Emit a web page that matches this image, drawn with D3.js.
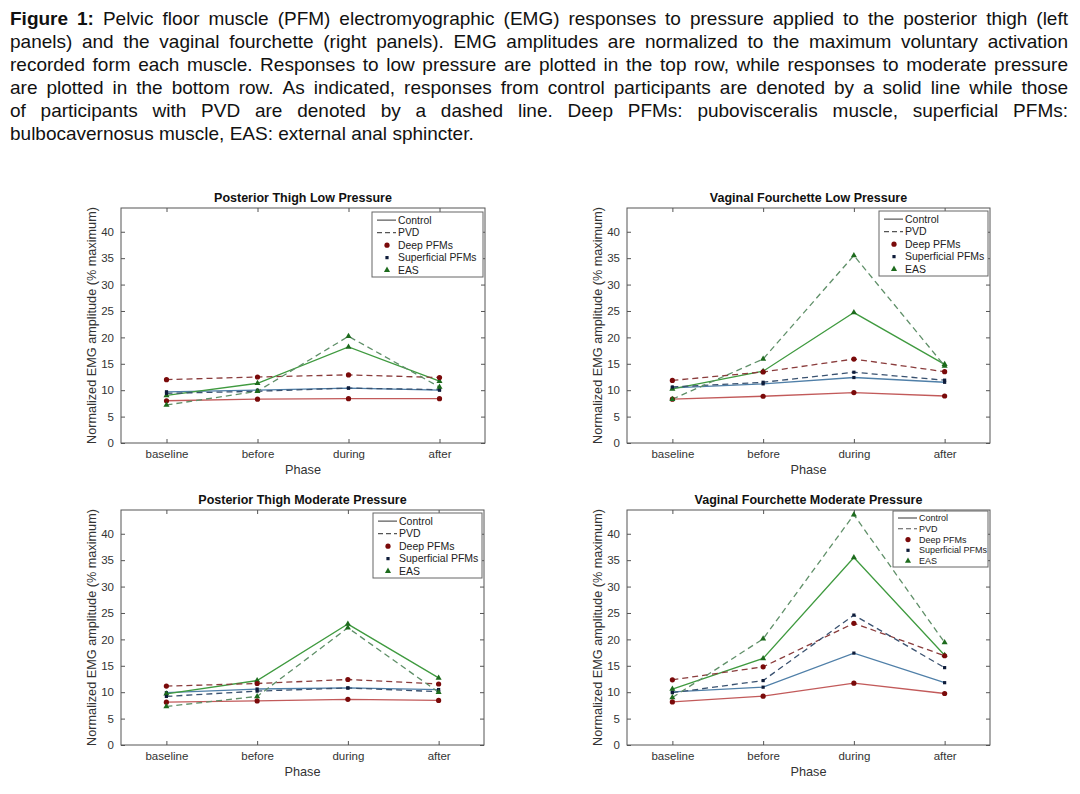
<!DOCTYPE html>
<html>
    <head>
        <style>
            body { margin: 0; background: white; }
            text { font-family: "Liberation Sans", Arial, sans-serif; }
            .frame { fill: none; stroke: #555; stroke-width: 1; }
            .axis path { display: none; }
            .axis line { stroke: #555; }
            .axis text { fill: #333; font-size: 11.5px; font-family: "Liberation Sans", Arial, sans-serif; }
            .legend_box { fill: white; stroke: #666; stroke-width: 1; }
        </style>
    </head>
    <body>
        <div id="plateau"></div>
        <script src="https://cdn.jsdelivr.net/npm/d3@7"></script>
        <script>

//////////////////// donnees ////////////////////
const PHASES = ['baseline', 'before', 'during', 'after'];
const MUSCLES = ['Deep PFMs', 'Superficial PFMs', 'EAS'];
const GROUPS = ['Control', 'PVD'];
const Y_TICKS = [0, 5, 10, 15, 20, 25, 30, 35, 40];
const Y_MAX = 44.5;

const TITLES = [
    'Posterior Thigh Low Pressure',
    'Vaginal Fourchette Low Pressure',
    'Posterior Thigh Moderate Pressure',
    'Vaginal Fourchette Moderate Pressure'
];

// une ligne par muscle : deep, superficial, EAS
const ptLowControl = [[8.0, 8.3, 8.4, 8.4], [9.7, 10.0, 10.4, 10.0], [9.0, 11.3, 18.2, 11.7]];
const ptLowPvd     = [[12.0, 12.5, 12.9, 12.4], [9.4, 9.8, 10.4, 10.1], [7.2, 9.8, 20.2, 10.6]];

const vfLowControl = [[8.3, 8.85, 9.55, 8.9], [10.45, 11.2, 12.4, 11.5], [10.25, 13.6, 24.7, 14.9]];
const vfLowPvd     = [[11.85, 13.45, 15.9, 13.5], [10.6, 11.5, 13.4, 11.9], [8.3, 15.9, 35.5, 14.6]];

const ptModControl = [[8.1, 8.35, 8.65, 8.45], [9.9, 10.6, 10.8, 10.5], [9.7, 12.2, 22.9, 12.7]];
const ptModPvd     = [[11.15, 11.65, 12.4, 11.55], [9.2, 10.2, 10.8, 10.1], [7.3, 9.2, 22.2, 10.0]];

const vfModControl = [[8.15, 9.25, 11.7, 9.75], [10.05, 10.95, 17.4, 11.8], [10.6, 16.4, 35.5, 17.0]];
const vfModPvd     = [[12.35, 14.8, 23.05, 16.9], [9.9, 12.2, 24.6, 14.65], [9.0, 20.1, 43.6, 19.4]];

const PANEL_DATA = [
    [ptLowControl, ptLowPvd],
    [vfLowControl, vfLowPvd],
    [ptModControl, ptModPvd],
    [vfModControl, vfModPvd]
];

const CAPTION = [
    'Figure 1: Pelvic floor muscle (PFM) electromyographic (EMG) responses to pressure applied to the posterior thigh (left',
    'panels) and the vaginal fourchette (right panels). EMG amplitudes are normalized to the maximum voluntary activation',
    'recorded form each muscle. Responses to low pressure are plotted in the top row, while responses to moderate pressure',
    'are plotted in the bottom row. As indicated, responses from control participants are denoted by a solid line while those',
    'of participants with PVD are denoted by a dashed line. Deep PFMs: pubovisceralis muscle, superficial PFMs:',
    'bulbocavernosus muscle, EAS: external anal sphincter.'
];

//////////////////// mise en page ////////////////////
let W = 1080;
let H = 794;

// cadres des axes
let PANELS = [
    {x0: 121, x1: 485, y0: 208, y1: 443, leg: {w: 111, h: 65, dy: 4, fs: 10.4}},
    {x0: 627, x1: 990, y0: 208, y1: 443, leg: {w: 109, h: 65, dy: 3, fs: 10.5}},
    {x0: 121, x1: 484, y0: 510, y1: 745, leg: {w: 109, h: 65, dy: 3, fs: 10.5}},
    {x0: 627, x1: 990, y0: 510, y1: 745, leg: {w: 95, h: 56, dy: 1, fs: 9}}
];

const LINE_COLORS = [['#c25a5a', '#8a3c3c'], ['#4f7fa8', '#3a5270'], ['#3f9a3f', '#5f8f68']];
const MARKER_COLORS = ['#7a0a0a', '#0e1c3a', '#1d6b1d'];

let svg = d3.select('#plateau').append('svg')
    .attr('width', W)
    .attr('height', H);

//////////////////// legende du haut ////////////////////
let CAP_X0 = 10;
let CAP_X1 = 1068;
let CAP_FS = 19;
let caption = svg.append('g').attr('font-size', CAP_FS).attr('fill', '#111');

CAPTION.forEach((line, idx) => {
    let y = 25 + idx * 23;
    let words = line.split(' ');
    let nodes = words.map((w, i) => caption.append('text')
        .attr('y', y)
        .attr('font-weight', (idx == 0 && i < 2) ? 'bold' : 'normal')
        .text(w));
    let widths = nodes.map(n => n.node().getComputedTextLength());
    let total = d3.sum(widths);
    let gap = CAP_FS * 0.278;
    if (idx < CAPTION.length - 1) gap = (CAP_X1 - CAP_X0 - total) / (words.length - 1);
    let x = CAP_X0;
    nodes.forEach((n, i) => {
        n.attr('x', x);
        x += widths[i] + gap;
    });
});

//////////////////// panneaux ////////////////////
function marker(g, muscle, x, y, color) {
    if (muscle == 0) {
        g.append('circle').attr('cx', x).attr('cy', y).attr('r', 2.6).attr('fill', color);
    } else if (muscle == 1) {
        g.append('rect').attr('x', x - 1.6).attr('y', y - 1.6).attr('width', 3.2).attr('height', 3.2).attr('fill', color);
    } else {
        g.append('path').attr('d', d3.symbol(d3.symbolTriangle, 16)()).attr('transform', `translate(${x}, ${y})`).attr('fill', color);
    }
}

PANELS.forEach((p, idx_panel) => {
    let g = svg.append('g').attr('id', 'panel' + idx_panel);

    let x = d3.scalePoint().domain(PHASES).range([p.x0, p.x1]).padding(0.5);
    let y = d3.scaleLinear().domain([0, Y_MAX]).range([p.y1, p.y0]);

    // axes, ticks vers l'interieur comme matlab
    g.append('g').classed('axis', true)
        .attr('transform', `translate(${p.x0}, 0)`)
        .call(d3.axisLeft(y).tickValues(Y_TICKS).tickSize(-4).tickPadding(7));
    g.append('g').classed('axis', true)
        .attr('transform', `translate(${p.x1}, 0)`)
        .call(d3.axisRight(y).tickValues(Y_TICKS).tickSize(-4).tickFormat(''));
    g.append('g').classed('axis', true)
        .attr('transform', `translate(0, ${p.y1})`)
        .call(d3.axisBottom(x).tickSize(-4).tickPadding(7));
    g.append('g').classed('axis', true)
        .attr('transform', `translate(0, ${p.y0})`)
        .call(d3.axisTop(x).tickSize(-4).tickFormat(''));

    g.append('rect').classed('frame', true)
        .attr('x', p.x0).attr('y', p.y0)
        .attr('width', p.x1 - p.x0).attr('height', p.y1 - p.y0);

    // titres
    g.append('text')
        .attr('x', (p.x0 + p.x1) / 2).attr('y', p.y0 - 6)
        .attr('text-anchor', 'middle')
        .attr('font-weight', 'bold').attr('font-size', 12.5).attr('fill', '#111')
        .text(TITLES[idx_panel]);
    g.append('text')
        .attr('x', (p.x0 + p.x1) / 2).attr('y', p.y1 + 31)
        .attr('text-anchor', 'middle')
        .attr('font-size', 12.7).attr('fill', '#333')
        .text('Phase');
    g.append('text')
        .attr('transform', `translate(${p.x0 - 25}, ${(p.y0 + p.y1) / 2}) rotate(-90)`)
        .attr('text-anchor', 'middle')
        .attr('font-size', 12.7).attr('fill', '#333')
        .text('Normalized EMG amplitude (% maximum)');

    // courbes
    let line = d3.line().x((d, i) => x(PHASES[i])).y(d => y(d));
    let data = PANEL_DATA[idx_panel];
    GROUPS.forEach((group, idx_group) => {
        data[idx_group].forEach((values, muscle) => {
            g.append('path')
                .attr('d', line(values))
                .attr('fill', 'none')
                .attr('stroke', LINE_COLORS[muscle][idx_group])
                .attr('stroke-width', 1.3)
                .attr('stroke-dasharray', idx_group == 1 ? '6,4' : null);
        });
    });
    GROUPS.forEach((group, idx_group) => {
        data[idx_group].forEach((values, muscle) => {
            values.forEach((v, i) => marker(g, muscle, x(PHASES[i]), y(v), MARKER_COLORS[muscle]));
        });
    });

    // legende
    let L = p.leg;
    let lx = p.x1 - 2 - L.w;
    let ly = p.y0 + L.dy;
    let rowH = L.h / 5.2;
    let leg = g.append('g').attr('font-size', L.fs).attr('fill', '#222');
    leg.append('rect').classed('legend_box', true)
        .attr('x', lx).attr('y', ly).attr('width', L.w).attr('height', L.h);
    let entries = GROUPS.concat(MUSCLES);
    entries.forEach((name, i) => {
        let ry = ly + rowH * 0.65 + i * rowH;
        if (i < 2) {
            leg.append('line')
                .attr('x1', lx + 5).attr('x2', lx + 24)
                .attr('y1', ry).attr('y2', ry)
                .attr('stroke', '#555').attr('stroke-width', 1.2)
                .attr('stroke-dasharray', i == 1 ? '5,3' : null);
        } else {
            marker(leg, i - 2, lx + 15, ry, MARKER_COLORS[i - 2]);
        }
        leg.append('text')
            .attr('x', lx + 26).attr('y', ry)
            .attr('dy', '0.35em')
            .text(name);
    });
});

        </script>
    </body>
</html>
